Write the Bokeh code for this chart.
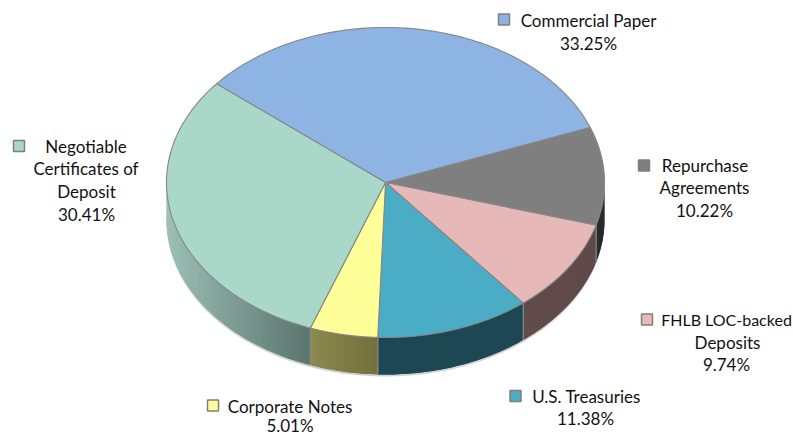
import numpy as np
from bokeh.plotting import figure
from bokeh.embed import file_html
from bokeh.resources import INLINE
from bokeh.core.properties import value

# ---- chart data ----
categories = ["Commercial Paper", "Repurchase Agreements", "FHLB LOC-backed Deposits",
              "U.S. Treasuries", "Corporate Notes", "Negotiable Certificates of Deposit"]
shares = [33.25, 10.22, 9.74, 11.38, 5.01, 30.41]

# ---- styling and layout ----
top_colors = ["#8EB4E3", "#7F7F7F", "#E6B9B8", "#4BACC6", "#FFFF99", "#A9D8C8"]
side_left = ["#5f7794", "#2e2e2e", "#604c4a", "#1c4753", "#8c8a50", "#9cc0b5"]
side_right = ["#5f7794", "#262626", "#5e4a48", "#1c4753", "#726f3a", "#5a746e"]
label_lines = [["Commercial Paper"], ["Repurchase", "Agreements"], ["FHLB LOC-backed", "Deposits"],
               ["U.S. Treasuries"], ["Corporate Notes"], ["Negotiable", "Certificates of", "Deposit"]]
label_x = [[588, 588], [704.5, 704, 704], [726, 727, 726], [586, 585], [289.5, 289.5], [85.5, 85.5, 86, 86]]
label_y = [[20, 42.5], [165, 187, 210], [319, 342, 364], [395.5, 418], [406, 425], [146, 168, 191, 214]]
label_size = [[17, 17], [17, 17, 17], [16, 17, 17], [17, 17], [17, 17], [17, 17, 17, 17]]
marker_x = [503.5, 643.5, 646.5, 515, 212.5, 18.5]
marker_y = [19, 165, 319, 395.5, 405, 145.5]
CX, CY, RX, RY, DEPTH = 385.0, 182.0, 219.0, 155.0, 37.0
START_DEG = 140.5
FONT = "Lato"


def hex2rgb(h):
    return np.array([int(h[i:i + 2], 16) for i in (1, 3, 5)], dtype=float)


def rgb2hex(c):
    return "#%02x%02x%02x" % tuple(int(round(v)) for v in c)


def rim(t):
    return CX + RX * np.cos(t), CY + RY * np.sin(t)


p = figure(width=793, height=435, x_range=(0, 793), y_range=(435, 0),
           output_backend="svg", toolbar_location=None, min_border=0,
           outline_line_color=None)
p.axis.visible = False
p.grid.visible = False

edges = START_DEG - np.cumsum([0] + [s * 3.6 for s in shares])

# soft shadow beneath the body
ts = np.radians(np.linspace(-5, 185, 200))
sx, sy = rim(ts)
p.patch(np.r_[sx, sx[::-1]], np.r_[sy + DEPTH + 2.0, (sy - 2)[::-1]], fill_color="#000000",
        fill_alpha=0.18, line_color=None)

# walls
for i in range(len(shares)):
    a0, a1 = edges[i], edges[i + 1]
    lo, hi = max(a1, -180.0), min(a0, 0.0)   # front half only
    if lo >= hi:
        continue
    n = max(2, int((hi - lo) / 1.0))
    ang = np.linspace(hi, lo, n + 1)
    x, y = rim(np.radians(-ang))
    xmin, xmax = x.min(), x.max()
    c0, c1 = hex2rgb(side_left[i]), hex2rgb(side_right[i])
    # one polygon per gradient step, overlapping the next one so no seams show
    xs, ys, cols = [], [], []
    for k in range(n):
        j = min(k + 2, n)
        xs.append(list(x[k:j + 1]) + list(x[k:j + 1])[::-1])
        ys.append(list(y[k:j + 1]) + list(y[k:j + 1] + DEPTH)[::-1])
        f = ((x[k] + x[k + 1]) / 2 - xmin) / (xmax - xmin)
        cols.append(rgb2hex(c0 + (c1 - c0) * f))
    p.patches(xs, ys, fill_color=cols, line_color=None)
    for a in (a0, a1):
        if -180 < a < 0:
            xe, ye = rim(np.radians(-a))
            p.line([xe, xe], [ye, ye + DEPTH], line_color="#8a8a8a", line_width=1)

# top face
for i in range(len(shares)):
    ang = np.linspace(edges[i], edges[i + 1], 160)
    x, y = rim(np.radians(-ang))
    p.patch(np.r_[CX, x], np.r_[CY, y], fill_color=top_colors[i],
            line_color="#868686", line_width=1.1, line_join="round")

# labels
for i in range(len(shares)):
    lines = label_lines[i] + [f"{shares[i]:.2f}%"]
    for tx, ty, ts_px, line in zip(label_x[i], label_y[i], label_size[i], lines):
        p.text([tx], [ty], text=[line], text_font=value(FONT),
               text_font_size=f"{ts_px}px", text_color="#111111", text_align="center",
               text_baseline="middle")

p.scatter(marker_x, marker_y, marker="square", size=11, fill_color=top_colors,
          line_color="#7f7f7f", line_width=1.5)

open("out.html", "w").write(file_html(p, INLINE))
